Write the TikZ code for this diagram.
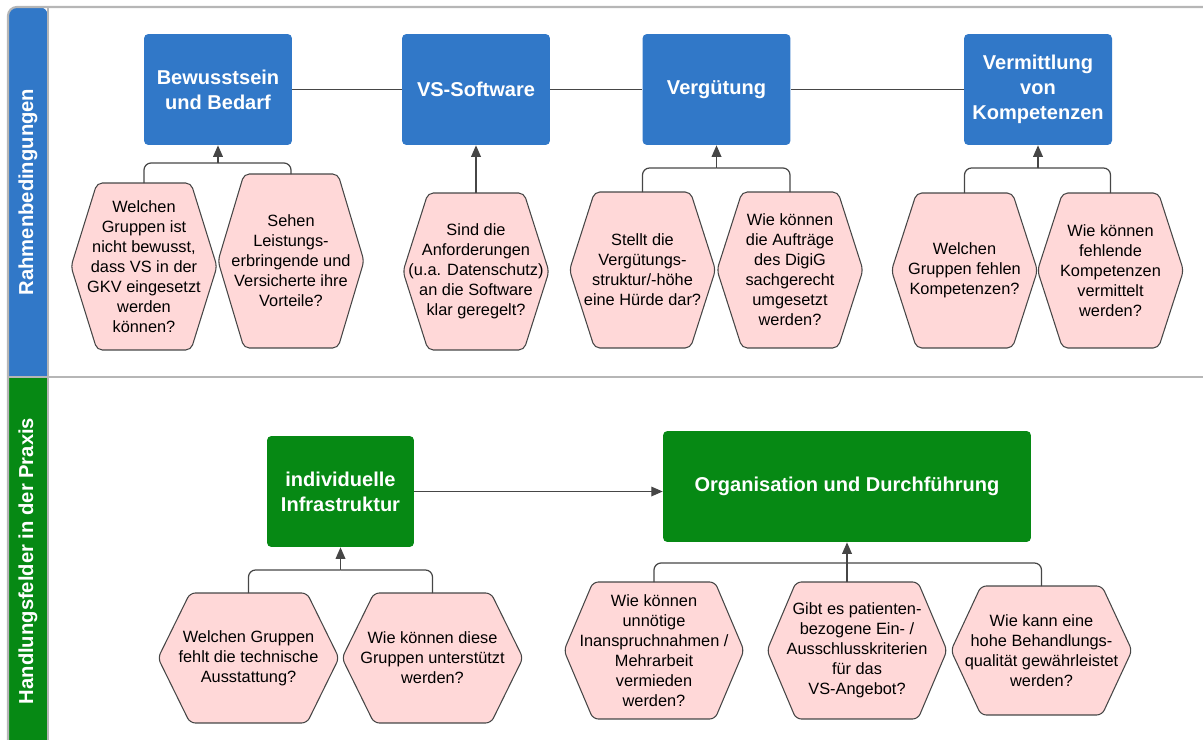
\documentclass[tikz,border=0pt]{standalone}
\usepackage{fontspec}
\setmainfont{Liberation Sans}
\usetikzlibrary{backgrounds, arrows.meta, positioning}

\definecolor{laneblue}{RGB}{49,120,200}
\definecolor{lanegreen}{RGB}{6,137,20}
\definecolor{qpink}{RGB}{255,216,216}
\definecolor{framegray}{RGB}{182,182,182}
\definecolor{linegray}{RGB}{70,70,70}

\begin{document}
\begin{tikzpicture}[x=0.02cm, y=-0.02cm, >={Triangle[length=6.5pt, width=5.5pt]},
  topic/.style={fill=laneblue, rounded corners=2.5pt, minimum width=2.96cm, minimum height=2.22cm,
    text=white, font=\bfseries\fontsize{11.4}{14.2}\selectfont, align=center, inner sep=2pt},
  field/.style={topic, fill=lanegreen},
  lanelabel/.style={rotate=90, text=white, font=\bfseries\fontsize{11.5}{14}\selectfont},
  frage/.style 2 args={minimum width=#1, minimum height=#2, align=center, inner sep=0pt,
    outer sep=0pt, font=\fontsize{9.3}{11.4}\selectfont},
  hexline/.style={fill=qpink, draw=linegray, line width=0.6pt, rounded corners=3pt},
  link/.style={draw=linegray, line width=0.7pt, rounded corners=4pt},
  frame/.style={draw=framegray, line width=1.2pt}]
\useasboundingbox (0,0) rectangle (1203,740);
% --- lanes ---
\fill[laneblue] (8,377) [rounded corners=5pt] |- (48,7) [sharp corners] -- (48,377) -- cycle;
\fill[lanegreen] (8,377) rectangle (48,740);
\draw[frame] (8,740) [rounded corners=5pt] |- (1203,7);
\draw[frame] (48,7) -- (48,740);
\draw[frame] (8,377) -- (1203,377);
\node[lanelabel] (lane1) at (28,192) {Rahmenbedingungen};
\node[lanelabel] (lane2) at (28,561) {Handlungsfelder in der Praxis};
% --- Rahmenbedingungen ---
\node[topic] (b1) at (218,89.5) {Bewusstsein\\und Bedarf};
\node[topic] (b2) at (476,89.5) {VS-Software};
\node[topic] (b3) at (716.5,89.5) {Vergütung};
\node[topic] (b4) at (1038,89.5) {Vermittlung\\von\\Kompetenzen};
\node[frage={2.92cm}{3.34cm}] (q1) at (144,266.5) {Welchen\\Gruppen ist\\nicht bewusst,\\dass VS in der\\GKV eingesetzt\\werden\\können?};
\node[frage={2.92cm}{3.48cm}] (q2) at (291,261) {Sehen\\Leistungs-\\erbringende und\\Versicherte ihre\\Vorteile?};
\node[frage={2.92cm}{3.14cm}] (q3) at (476,271.5) {Sind die\\Anforderungen\\(u.a. Datenschutz)\\an die Software\\klar geregelt?};
\node[frage={2.92cm}{3.12cm}] (q4) at (642.5,270) {Stellt die\\Vergütungs-\\struktur/-höhe\\eine Hürde dar?};
\node[frage={2.92cm}{3.12cm}] (q5) at (790,270) {Wie können\\die Aufträge\\des DigiG\\sachgerecht\\umgesetzt\\werden?};
\node[frage={2.92cm}{3.1cm}] (q6) at (964.5,270.5) {Welchen\\Gruppen fehlen\\Kompetenzen?};
\node[frage={2.92cm}{3.1cm}] (q7) at (1110.5,270.5) {Wie können\\fehlende\\Kompetenzen\\vermittelt\\werden?};
\coordinate (j1) at (218,163);
\coordinate (j3) at (716.5,168);
\coordinate (j4) at (1038,168);
\draw[link] (b1) -- (b2) (b2) -- (b3) (b3) -- (b4);
\draw[link] (q1.north) |- (j1);
\draw[link] (q2.north) |- (j1);
\draw[link, ->] (j1) -- (b1.south);
\draw[link, ->] (q3.north) -- (b2.south);
\draw[link] (q4.north) |- (j3);
\draw[link] (q5.north) |- (j3);
\draw[link, ->] (j3) -- (b3.south);
\draw[link] (q6.north) |- (j4);
\draw[link] (q7.north) |- (j4);
\draw[link, ->] (j4) -- (b4.south);
% --- Handlungsfelder ---
\node[field, minimum width=2.94cm] (infra) at (340.5,491.5) {individuelle\\Infrastruktur};
\node[field, minimum width=7.36cm] (orga) at (847,486.5) {Organisation und Durchführung};
\node[frage={3.62cm}{2.6cm}] (q8) at (248.5,658) {Welchen Gruppen\\fehlt die technische\\Ausstattung?};
\node[frage={3.62cm}{2.6cm}] (q9) at (432.5,658) {Wie können diese\\Gruppen unterstützt\\werden?};
\node[frage={3.6cm}{2.74cm}] (q10) at (654,650.5) {Wie können\\unnötige\\Inanspruchnahmen /\\Mehrarbeit\\vermieden\\werden?};
\node[frage={3.6cm}{2.74cm}] (q11) at (857,650.5) {Gibt es patienten-\\bezogene Ein- /\\Ausschlusskriterien\\für das\\VS-Angebot?};
\node[frage={3.62cm}{2.58cm}] (q12) at (1041.5,650.5) {Wie kann eine\\hohe Behandlungs-\\qualität gewährleistet\\werden?};
\coordinate (j5) at (340.5,570);
\coordinate (j6) at (847,563);
\draw[link, ->] (infra.east) -- (infra.east -| orga.west);
\draw[link] (q8.north) |- (j5);
\draw[link] (q9.north) |- (j5);
\draw[link, ->] (j5) -- (infra.south);
\draw[link] (q10.north) |- (j6);
\draw[link] (q12.north) |- (j6);
\draw[link] (q11.north -| j6) -- (j6);
\draw[link, ->] (j6) -- (orga.south);
% hexagon outlines behind the questions
\begin{scope}[on background layer]
\foreach \q/\c in {q1/0.52cm, q2/0.52cm, q3/0.5cm, q4/0.5cm, q5/0.5cm, q6/0.5cm, q7/0.5cm,
    q8/0.64cm, q9/0.64cm, q10/0.58cm, q11/0.58cm, q12/0.6cm}
  \path[hexline] (\q.west) -- ([xshift=\c]\q.north west) -- ([xshift=-\c]\q.north east)
    -- (\q.east) -- ([xshift=-\c]\q.south east) -- ([xshift=\c]\q.south west) -- cycle;
\end{scope}
\end{tikzpicture}
\end{document}
